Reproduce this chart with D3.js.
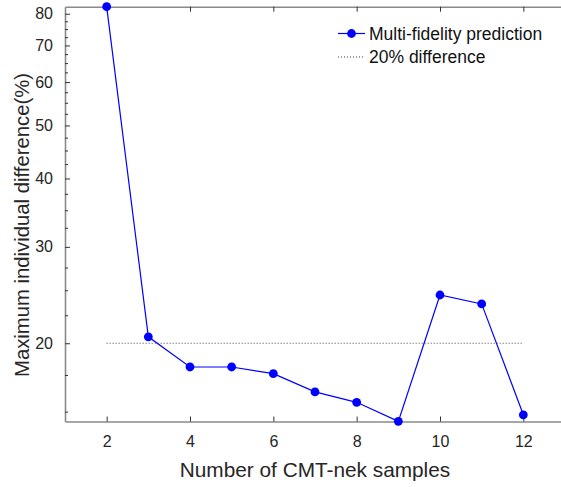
<!DOCTYPE html>
<html>
<head>
<meta charset="utf-8">
<script src="https://cdn.jsdelivr.net/npm/d3@7"></script>
<style>
  body { margin: 0; background: #fff; }
  text { font-family: "Liberation Sans", Arial, sans-serif; }
</style>
</head>
<body>
<script>
// chart data
const samples = [2, 3, 4, 5, 6, 7, 8, 9, 10, 11, 12]
const maxDiff = [82.4, 20.55, 18.1, 18.1, 17.6, 16.3, 15.6, 14.4, 24.5, 23.6, 14.8]
const refLevel = 20
const refRange = [2, 12]
const xTicks = [2, 4, 6, 8, 10, 12]
const yTicks = [20, 30, 40, 50, 60, 70, 80]
const yMinor = [15, 17.5, 22.5, 25, 27.5, 32.5, 35, 37.5, 42.5, 45, 47.5, 52.5, 55, 57.5, 62.5, 65, 67.5, 72.5, 75, 77.5]
const legendLabels = ['Multi-fidelity prediction', '20% difference']

const W = 561, H = 487
const mLeft = 65, mRight = 565, mTop = 6.7, mBottom = 421.5

const svg = d3.select('body').append('svg')
  .attr('width', W)
  .attr('height', H)

const x = d3.scaleLinear().domain([1, 13]).range([mLeft, mRight])
const y = d3.scaleLog().domain([14.39, 82.4]).range([mBottom, mTop])

// inward ticks, matlab style
const gx = svg.append('g').attr('transform', `translate(0,${mBottom})`)
  .call(d3.axisBottom(x).tickValues(xTicks).tickSizeInner(-5).tickSizeOuter(0).tickPadding(14))
const gxTop = svg.append('g').attr('transform', `translate(0,${mTop})`)
  .call(d3.axisTop(x).tickValues(xTicks).tickSizeInner(-5).tickSizeOuter(0).tickFormat(''))
const gy = svg.append('g').attr('transform', `translate(${mLeft},0)`)
  .call(d3.axisLeft(y).tickValues(yTicks).tickFormat(d3.format('d')).tickSizeInner(-5).tickSizeOuter(0).tickPadding(12))
const gyMinor = svg.append('g').attr('transform', `translate(${mLeft},0)`)
  .call(d3.axisLeft(y).tickValues(yMinor).tickFormat('').tickSizeInner(-3).tickSizeOuter(0))

for (const g of [gx, gxTop, gy, gyMinor]) {
  g.select('.domain').attr('stroke', '#8a8a8a').attr('stroke-width', 1.6)
  g.selectAll('.tick line').attr('stroke', '#333').attr('stroke-width', 1)
  g.selectAll('.tick text')
    .attr('fill', '#262626')
    .style('font-size', '16px')
    .style('font-family', '"Liberation Sans", Arial, sans-serif')
}
gx.selectAll('.tick text').attr('dy', '0.71em')
gyMinor.select('.domain').remove()

// reference line at 20%
svg.append('line')
  .attr('x1', x(refRange[0])).attr('x2', x(refRange[1]))
  .attr('y1', y(refLevel)).attr('y2', y(refLevel))
  .attr('stroke', '#444')
  .attr('stroke-width', 1)
  .attr('stroke-dasharray', '1,2')

const pts = samples.map((s, i) => ({ s: s, v: maxDiff[i] }))

svg.append('path')
  .datum(pts)
  .attr('fill', 'none')
  .attr('stroke', '#0000ff')
  .attr('stroke-width', 1.2)
  .attr('d', d3.line().x(d => x(d.s)).y(d => y(d.v)))

svg.selectAll('circle.pt')
  .data(pts)
  .enter()
  .append('circle')
  .attr('class', 'pt')
  .attr('cx', d => x(d.s))
  .attr('cy', d => y(d.v))
  .attr('r', 4.4)
  .attr('fill', '#0000ff')

// legend
const lg = svg.append('g')
lg.append('line')
  .attr('x1', 338).attr('x2', 365).attr('y1', 33.5).attr('y2', 33.5)
  .attr('stroke', '#0000ff').attr('stroke-width', 1.2)
lg.append('circle').attr('cx', 351.5).attr('cy', 33.5).attr('r', 4.4).attr('fill', '#0000ff')
lg.append('line')
  .attr('x1', 338).attr('x2', 365).attr('y1', 57).attr('y2', 57)
  .attr('stroke', '#444').attr('stroke-width', 1).attr('stroke-dasharray', '1,2')
lg.selectAll('text')
  .data(legendLabels)
  .enter()
  .append('text')
  .attr('x', 369)
  .attr('y', (d, i) => 33.5 + i * 23.5)
  .attr('dy', '0.35em')
  .attr('fill', '#111')
  .style('font-size', '17.5px')
  .text(d => d)

// axis titles
svg.append('text')
  .attr('x', (mLeft + mRight) / 2)
  .attr('y', 476.5)
  .attr('text-anchor', 'middle')
  .attr('fill', '#262626')
  .style('font-size', '20.8px')
  .text('Number of CMT-nek samples')

svg.append('text')
  .attr('transform', `translate(29,225) rotate(-90)`)
  .attr('text-anchor', 'middle')
  .attr('fill', '#262626')
  .style('font-size', '20.3px')
  .text('Maximum individual difference(%)')
</script>
</body>
</html>
